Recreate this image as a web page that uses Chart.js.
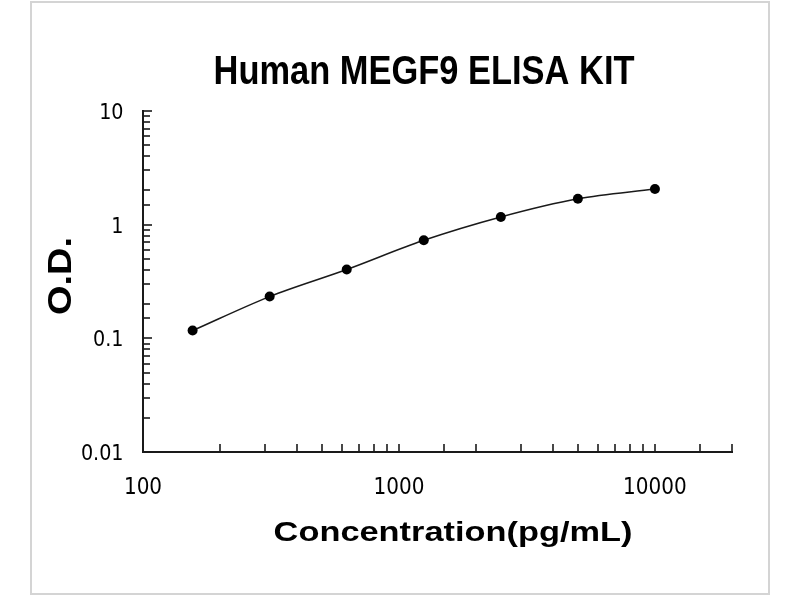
<!DOCTYPE html>
<html><head><meta charset="utf-8">
<script src="https://cdn.jsdelivr.net/npm/chart.js@4/dist/chart.umd.min.js"></script>
<style>html,body{margin:0;padding:0;background:#fff}#wrap{width:800px;height:600px;position:relative}</style>
</head><body><div id="wrap"><canvas id="c" width="800" height="600"></canvas></div>
<script>
const concentrations = [156.25, 312.5, 625, 1250, 2500, 5000, 10000];
const odValues = [0.117, 0.233, 0.403, 0.729, 1.17, 1.69, 2.06];
const xTickLabels = [100, 1000, 10000];
const yTickLabels = [0.01, 0.1, 1, 10];
const chartTitle = 'Human MEGF9 ELISA KIT';
const xTitle = 'Concentration(pg/mL)';
const yTitle = 'O.D.';

function drawScaledText(ctx, text, x, y, font, sx, align, rot) {
  ctx.save();
  ctx.translate(x, y);
  if (rot) ctx.rotate(rot);
  ctx.scale(sx, 1);
  ctx.font = font;
  ctx.textAlign = align;
  ctx.textBaseline = 'alphabetic';
  ctx.fillStyle = '#000';
  ctx.fillText(text, 0, 0);
  ctx.restore();
}

const decor = {
  id: 'decor',
  afterDraw(chart) {
    const ctx = chart.ctx, xs = chart.scales.x, ys = chart.scales.y, a = chart.chartArea;
    ctx.save();
    ctx.strokeStyle = '#d4d4d4'; ctx.lineWidth = 2;
    ctx.strokeRect(31, 2, 738, 592);
    ctx.strokeStyle = '#1a1a1a'; ctx.lineWidth = 1.6;
    xs.ticks.forEach(t => {
      const px = Math.round(xs.getPixelForValue(t.value));
      ctx.beginPath(); ctx.moveTo(px, a.bottom); ctx.lineTo(px, a.bottom - 8); ctx.stroke();
    });
    ys.ticks.forEach(t => {
      const py = Math.round(ys.getPixelForValue(t.value));
      const lg = Math.log10(t.value);
      const len = Math.abs(lg - Math.round(lg)) < 1e-6 ? 9 : 7;
      ctx.beginPath(); ctx.moveTo(a.left, py); ctx.lineTo(a.left + len, py); ctx.stroke();
    });
    ctx.restore();
    xTickLabels.forEach(v => {
      drawScaledText(ctx, String(v), xs.getPixelForValue(v), 494, '23px "DejaVu Sans"', 0.87, 'center');
    });
    yTickLabels.forEach(v => {
      drawScaledText(ctx, String(v), 123.5, ys.getPixelForValue(v) + 8, '22px "DejaVu Sans"', 0.87, 'right');
    });
    drawScaledText(ctx, chartTitle, 424, 84, 'bold 41px "Liberation Sans"', 0.84, 'center');
    drawScaledText(ctx, xTitle, 453, 541, 'bold 28px "Liberation Sans"', 1.227, 'center');
    drawScaledText(ctx, yTitle, 71, 276, 'bold 33px "Liberation Sans"', 1.15, 'center', -Math.PI / 2);
  }
};

new Chart(document.getElementById('c'), {
  type: 'scatter',
  data: {
    datasets: [{
      data: concentrations.map((x, i) => ({ x: x, y: odValues[i] })),
      showLine: true,
      borderColor: '#1a1a1a',
      borderWidth: 1.5,
      cubicInterpolationMode: 'monotone',
      pointRadius: 5,
      pointBackgroundColor: '#000',
      pointBorderColor: '#000',
      pointBorderWidth: 0
    }]
  },
  options: {
    responsive: false,
    animation: false,
    devicePixelRatio: 1,
    layout: { padding: { top: 111, right: 68, left: 0, bottom: 0 } },
    plugins: { legend: { display: false }, tooltip: { enabled: false }, title: { display: false } },
    scales: {
      x: {
        type: 'logarithmic', position: 'bottom', min: 100, max: 20000,
        grid: { display: true, drawOnChartArea: false, drawTicks: false },
        border: { display: true, color: '#1a1a1a', width: 2 },
        ticks: { display: false },
        afterFit: s => { s.height = 148; }
      },
      y: {
        type: 'logarithmic', position: 'left', min: 0.01, max: 10,
        grid: { display: true, drawOnChartArea: false, drawTicks: false },
        border: { display: true, color: '#1a1a1a', width: 2 },
        ticks: { display: false },
        afterFit: s => { s.width = 143; }
      }
    }
  },
  plugins: [decor]
});
</script>
</body></html>
